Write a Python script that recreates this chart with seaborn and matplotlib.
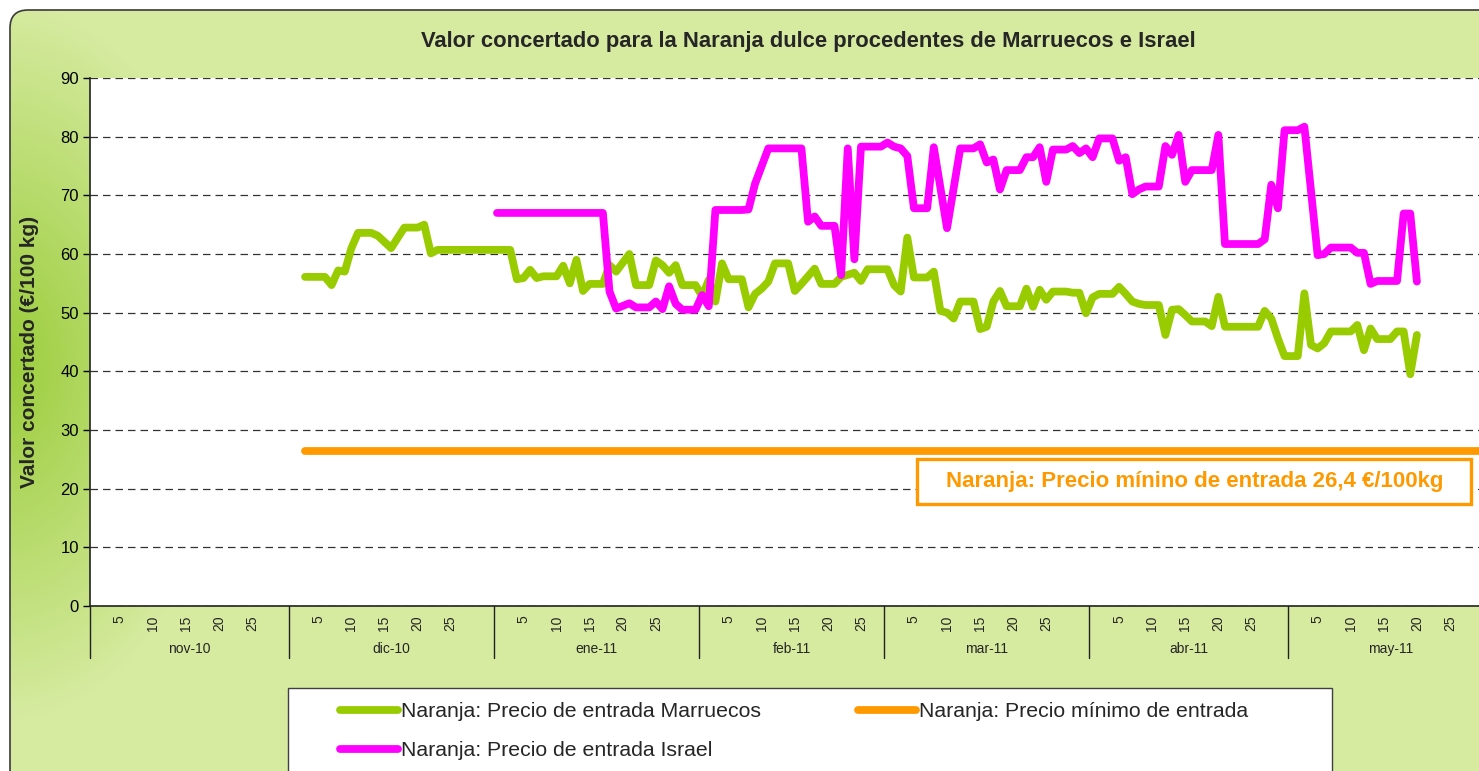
import numpy as np
import pandas as pd
import matplotlib
matplotlib.use('Agg')
import matplotlib.pyplot as plt
import matplotlib.dates as mdates
import matplotlib.transforms as mtransforms
from matplotlib.patches import FancyBboxPatch, Rectangle
from matplotlib.lines import Line2D
import seaborn as sns

titulo = 'Valor concertado para la Naranja dulce procedentes de Marruecos e Israel'
etiqueta_y = 'Valor concertado (€/100 kg)'
nota_minimo = 'Naranja: Precio mínino de entrada 26,4 €/100kg'
serie_marruecos = 'Naranja: Precio de entrada Marruecos'
serie_israel = 'Naranja: Precio de entrada Israel'
serie_minimo = 'Naranja: Precio mínimo de entrada'

meses = ['nov-10', 'dic-10', 'ene-11', 'feb-11', 'mar-11', 'abr-11', 'may-11']
limites_meses = ['2010-11-01', '2010-12-01', '2011-01-01', '2011-02-01', '2011-03-01',
                 '2011-04-01', '2011-05-01', '2011-06-01']
dias_marcados = [5, 10, 15, 20, 25]
valores_y = [0, 10, 20, 30, 40, 50, 60, 70, 80, 90]

fechas_marruecos = [
    '2010-12-03', '2010-12-06', '2010-12-07', '2010-12-08', '2010-12-09', '2010-12-10', '2010-12-11',
    '2010-12-13', '2010-12-14', '2010-12-16', '2010-12-18', '2010-12-20', '2010-12-21', '2010-12-22',
    '2010-12-23',
    '2011-01-03', '2011-01-04', '2011-01-05', '2011-01-06', '2011-01-07', '2011-01-08', '2011-01-10',
    '2011-01-11', '2011-01-12', '2011-01-13', '2011-01-14', '2011-01-15', '2011-01-17', '2011-01-18',
    '2011-01-19', '2011-01-21', '2011-01-22', '2011-01-24', '2011-01-25', '2011-01-26', '2011-01-27',
    '2011-01-28', '2011-01-29', '2011-01-31',
    '2011-02-01', '2011-02-02', '2011-02-03', '2011-02-04', '2011-02-05', '2011-02-07', '2011-02-08',
    '2011-02-09', '2011-02-10', '2011-02-11', '2011-02-12', '2011-02-14', '2011-02-15', '2011-02-16',
    '2011-02-18', '2011-02-19', '2011-02-21', '2011-02-22', '2011-02-24', '2011-02-25', '2011-02-26',
    '2011-03-01', '2011-03-02', '2011-03-03', '2011-03-04', '2011-03-05', '2011-03-07', '2011-03-08',
    '2011-03-09', '2011-03-10', '2011-03-11', '2011-03-12', '2011-03-14', '2011-03-15', '2011-03-16',
    '2011-03-17', '2011-03-18', '2011-03-19', '2011-03-21', '2011-03-22', '2011-03-23', '2011-03-24',
    '2011-03-25', '2011-03-26', '2011-03-28', '2011-03-29', '2011-03-30', '2011-03-31',
    '2011-04-01', '2011-04-02', '2011-04-04', '2011-04-05', '2011-04-06', '2011-04-07', '2011-04-08',
    '2011-04-09', '2011-04-11', '2011-04-12', '2011-04-13', '2011-04-14', '2011-04-15', '2011-04-16',
    '2011-04-18', '2011-04-19', '2011-04-20', '2011-04-21', '2011-04-26', '2011-04-27', '2011-04-28',
    '2011-04-29', '2011-04-30',
    '2011-05-02', '2011-05-03', '2011-05-04', '2011-05-05', '2011-05-06', '2011-05-07', '2011-05-10',
    '2011-05-11', '2011-05-12', '2011-05-13', '2011-05-14', '2011-05-16', '2011-05-17', '2011-05-18',
    '2011-05-19', '2011-05-20']
valores_marruecos = [
    56.1, 56.1, 54.7, 57.2, 57.0, 61.0, 63.6, 63.6, 63.1, 61.0, 64.5, 64.5, 65.0, 60.1, 60.7,
    60.7, 55.7, 55.9, 57.3, 55.9, 56.2, 56.2, 58.0, 55.0, 59.0, 53.7, 54.9, 54.9, 58.1, 57.0,
    60.0, 54.7, 54.7, 58.9, 58.1, 56.8, 58.1, 54.7, 54.7,
    52.8, 55.6, 51.9, 58.4, 55.7, 55.7, 50.9, 53.2, 54.1, 55.3, 58.4, 58.4, 53.7, 54.9, 57.5,
    54.9, 54.9, 56.1, 56.8, 55.4, 57.4,
    57.4, 54.7, 53.6, 62.8, 56.0, 56.0, 57.0, 50.3, 50.0, 49.0, 51.9, 51.9, 47.2, 47.6, 51.9,
    53.7, 51.1, 51.1, 54.1, 51.0, 53.9, 52.2, 53.6, 53.6, 53.4, 53.4, 49.9,
    52.6, 53.2, 53.2, 54.4, 53.2, 51.9, 51.5, 51.3, 51.3, 46.2, 50.5, 50.6, 49.6, 48.5, 48.5,
    47.7, 52.7, 47.6, 47.6, 50.3, 49.0, 45.6, 42.6,
    42.6, 53.3, 44.5, 43.9, 44.8, 46.8, 46.8, 47.9, 43.6, 47.3, 45.5, 45.5, 46.8, 46.8, 39.5, 46.2]

fechas_israel = [
    '2011-01-01', '2011-01-17', '2011-01-18', '2011-01-19', '2011-01-21', '2011-01-22', '2011-01-24',
    '2011-01-25', '2011-01-26', '2011-01-27', '2011-01-28', '2011-01-29', '2011-01-31',
    '2011-02-01', '2011-02-02', '2011-02-03', '2011-02-07', '2011-02-08', '2011-02-09', '2011-02-11',
    '2011-02-16', '2011-02-17', '2011-02-18', '2011-02-19', '2011-02-21', '2011-02-22', '2011-02-23',
    '2011-02-24', '2011-02-25', '2011-02-28',
    '2011-03-01', '2011-03-02', '2011-03-03', '2011-03-04', '2011-03-05', '2011-03-07', '2011-03-08',
    '2011-03-10', '2011-03-12', '2011-03-14', '2011-03-15', '2011-03-16', '2011-03-17', '2011-03-18',
    '2011-03-19', '2011-03-21', '2011-03-22', '2011-03-23', '2011-03-24', '2011-03-25', '2011-03-26',
    '2011-03-28', '2011-03-29', '2011-03-30', '2011-03-31',
    '2011-04-01', '2011-04-02', '2011-04-04', '2011-04-05', '2011-04-06', '2011-04-07', '2011-04-08',
    '2011-04-09', '2011-04-11', '2011-04-12', '2011-04-13', '2011-04-14', '2011-04-15', '2011-04-16',
    '2011-04-19', '2011-04-20', '2011-04-21', '2011-04-26', '2011-04-27', '2011-04-28', '2011-04-29',
    '2011-04-30',
    '2011-05-02', '2011-05-03', '2011-05-05', '2011-05-06', '2011-05-07', '2011-05-10', '2011-05-11',
    '2011-05-12', '2011-05-13', '2011-05-14', '2011-05-17', '2011-05-18', '2011-05-19', '2011-05-20']
valores_israel = [
    67.0, 67.0, 53.6, 50.7, 51.6, 50.9, 50.9, 51.9, 50.6, 54.5, 51.5, 50.5, 50.5,
    53.0, 51.1, 67.5, 67.5, 67.6, 72.0, 78.0, 78.0, 65.5, 66.4, 64.8, 64.8, 56.4, 78.0, 59.1,
    78.3, 78.3,
    79.0, 78.3, 78.0, 76.7, 67.8, 67.8, 78.2, 64.4, 78.0, 78.0, 78.7, 75.6, 76.1, 71.0, 74.3,
    74.3, 76.5, 76.5, 78.2, 72.3, 77.8, 77.8, 78.4, 77.2, 78.0,
    76.5, 79.7, 79.7, 75.9, 76.5, 70.2, 71.0, 71.5, 71.5, 78.4, 76.9, 80.3, 72.3, 74.3, 74.3,
    80.3, 61.7, 61.7, 62.5, 71.8, 67.8, 81.1,
    81.1, 81.7, 59.8, 60.0, 61.1, 61.1, 60.2, 60.2, 54.9, 55.4, 55.4, 66.9, 66.9, 55.3]

fechas_minimo = ['2010-12-03', '2011-05-31']
valores_minimo = [26.4, 26.4]

verde = '#99cc00'
magenta = '#ff00ff'
naranja = '#ff9900'

sns.set_style('white')
plt.rcParams['font.family'] = ['Liberation Sans', 'DejaVu Sans']

W, H = 1479, 771
fig = plt.figure(figsize=(W / 100, H / 100), dpi=100, facecolor='white')

# fondo degradado con esquinas redondeadas (coordenadas en pixeles)
bg = fig.add_axes([0, 0, 1, 1], zorder=-10)
bg.set_xlim(0, W)
bg.set_ylim(H, 0)
bg.axis('off')
yy, xx = np.mgrid[0:H:3, 0:W:3]
t = np.clip(np.sqrt((xx / 230.0) ** 2 + ((yy - 360) / 360.0) ** 2), 0, 1)
oscuro = np.array([0.60, 0.80, 0.22])
claro = np.array([0.84, 0.92, 0.63])
grad = oscuro[None, None, :] * (1 - t[..., None]) + claro[None, None, :] * t[..., None]
marco = FancyBboxPatch((10, 10), 1600, 900, boxstyle='round,pad=0,rounding_size=18',
                       facecolor='none', edgecolor='#3a3a3a', linewidth=1.2)
bg.add_patch(marco)
img = bg.imshow(grad, extent=(0, W, H, 0), aspect='auto', interpolation='bilinear')
img.set_clip_path(marco)

x0, x1, ytop, ybot = 90, 1493, 78, 606
ax = fig.add_axes([x0 / W, 1 - ybot / H, (x1 - x0) / W, (ybot - ytop) / H])
ax.set_facecolor('white')

medio_dia = pd.Timedelta(hours=12)
df_m = pd.DataFrame({'fecha': pd.to_datetime(fechas_marruecos) + medio_dia, 'valor': valores_marruecos})
df_i = pd.DataFrame({'fecha': pd.to_datetime(fechas_israel) + medio_dia, 'valor': valores_israel})
df_o = pd.DataFrame({'fecha': pd.to_datetime(fechas_minimo) + medio_dia, 'valor': valores_minimo})

estilo = dict(linewidth=5.6, solid_capstyle='round', solid_joinstyle='round', errorbar=None)
sns.lineplot(data=df_m, x='fecha', y='valor', color=verde, ax=ax, zorder=3, **estilo)
sns.lineplot(data=df_o, x='fecha', y='valor', color=naranja, ax=ax, zorder=3, **estilo)
sns.lineplot(data=df_i, x='fecha', y='valor', color=magenta, ax=ax, zorder=4, **estilo)

limites = pd.to_datetime(limites_meses)
ax.set_xlim(limites[0], limites[-1])
ax.set_ylim(0, 90)
ax.set_yticks(valores_y)
ax.tick_params(axis='y', labelsize=12, length=5, width=1, pad=3, direction='out', left=True, colors='black')
ax.grid(axis='y', color='#333333', linestyle=(0, (6, 4)), linewidth=0.9)
ax.grid(axis='x', visible=False)
ax.set_axisbelow(True)

# marcas de dias 5,10,15,20,25 en cada mes
ticks, etiquetas = [], []
for inicio in limites[:-1]:
    for d in dias_marcados:
        ticks.append(inicio + pd.Timedelta(days=d - 1) + medio_dia)
        etiquetas.append(str(d))
ax.set_xticks(ticks)
ax.set_xticklabels(etiquetas, rotation=90, fontsize=10)
ax.tick_params(axis='x', length=0, pad=7)
ax.set_xlabel('')

trans = mtransforms.blended_transform_factory(ax.transData, ax.transAxes)
num_lim = mdates.date2num(limites)
for i, mes in enumerate(meses):
    ax.text((num_lim[i] + num_lim[i + 1]) / 2, -0.081, mes, transform=trans,
            ha='center', va='center', fontsize=10)
for b in num_lim:
    ax.plot([b, b], [0, -0.099], transform=trans, color='#222222', lw=1, clip_on=False)

for s in ['top', 'right']:
    ax.spines[s].set_visible(False)
for s in ['left', 'bottom']:
    ax.spines[s].set_color('#222222')
    ax.spines[s].set_linewidth(1.2)

ax.set_ylabel(etiqueta_y, fontsize=15, fontweight='bold')
ax.yaxis.set_label_coords(-0.036, 0.482)

fig.text(808 / W, 1 - 41 / H, titulo, ha='center', va='center', fontsize=15.8, fontweight='bold')

# cuadro con el precio minimo y leyenda (capa en pixeles)
capa = fig.add_axes([0, 0, 1, 1], zorder=5)
capa.set_xlim(0, W)
capa.set_ylim(H, 0)
capa.axis('off')
capa.add_patch(Rectangle((917, 459), 554, 45, facecolor='white', edgecolor=naranja, lw=2.4))
capa.text(1195, 482, nota_minimo, ha='center', va='center', fontsize=16, fontweight='bold', color=naranja)

capa.add_patch(Rectangle((288, 688), 1044, 150, facecolor='white', edgecolor='#404040', lw=1))
h_m = Line2D([], [], color=verde, lw=5.6, solid_capstyle='round')
h_i = Line2D([], [], color=magenta, lw=5.6, solid_capstyle='round')
h_o = Line2D([], [], color=naranja, lw=5.6, solid_capstyle='round')
fuente_ley = {'size': 15.3}
ley1 = fig.legend([h_m, h_i], [serie_marruecos, serie_israel], loc='upper left',
                  bbox_to_anchor=(340 / W, 1 - 702 / H), frameon=False, prop=fuente_ley,
                  handlelength=2.75, handletextpad=0.1, labelspacing=0.95, borderpad=0, borderaxespad=0)
ley2 = fig.legend([h_o], [serie_minimo], loc='upper left',
                  bbox_to_anchor=(858 / W, 1 - 702 / H), frameon=False, prop=fuente_ley,
                  handlelength=2.75, handletextpad=0.1, borderpad=0, borderaxespad=0)
ley1.set_zorder(10)
ley2.set_zorder(10)

fig.savefig('out.png', dpi=100)
